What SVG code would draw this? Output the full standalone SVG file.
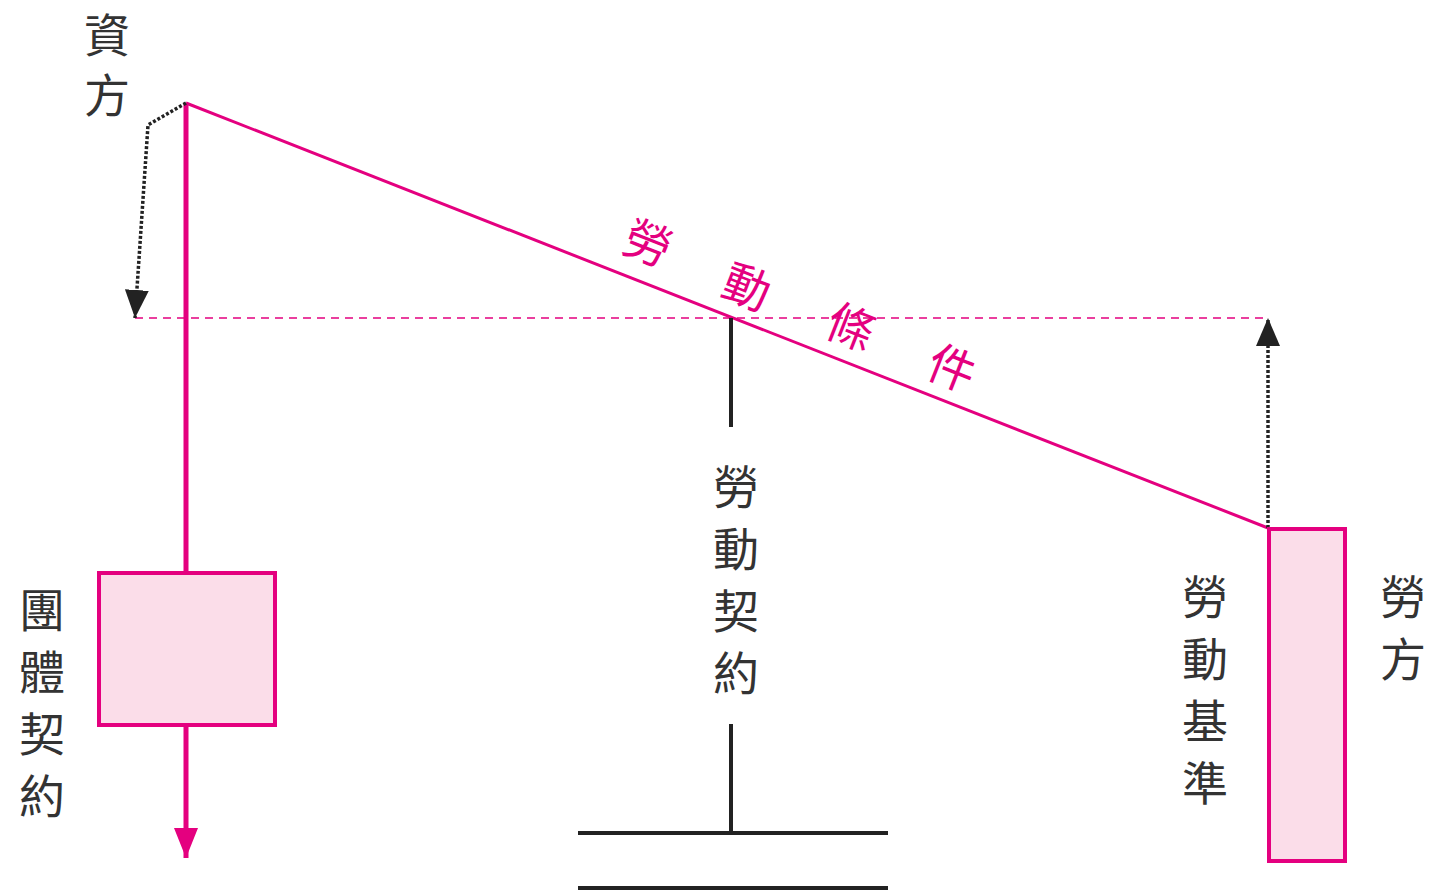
<svg xmlns="http://www.w3.org/2000/svg" width="1437" height="893" viewBox="0 0 1437 893">
<defs>
<style>
.t{font-family:"Noto Sans CJK TC","Noto Sans CJK JP",sans-serif;font-size:46px;fill:#333;text-anchor:middle;dominant-baseline:central}
.p{fill:#e4007f;font-size:47px}
.pink{stroke:#e4007f;fill:none}
.box{stroke:#e4007f;stroke-width:4;fill:#fbdde9}
.blk{stroke:#222;stroke-width:4;fill:none}
.dot{stroke:#222;stroke-width:3.5;stroke-dasharray:3 2;fill:none}
</style>
<marker id="ah" viewBox="0 0 28 24" refX="28" refY="12" markerWidth="28" markerHeight="24" markerUnits="userSpaceOnUse" orient="auto">
<path d="M0 0 L28 12 L0 24 Z" fill="#222"/>
</marker>
<marker id="ahp" viewBox="0 0 30 24" refX="30" refY="12" markerWidth="30" markerHeight="24" markerUnits="userSpaceOnUse" orient="auto">
<path d="M0 0 L30 12 L0 24 Z" fill="#e4007f"/>
</marker>
</defs>
<rect width="1437" height="893" fill="#fff"/>
<g id="connectors">
<line class="pink" x1="135" y1="318" x2="1268" y2="318" stroke-width="1.5" stroke-dasharray="8 6"/>
<line class="pink" x1="186" y1="103" x2="1268" y2="528" stroke-width="3"/>
<line class="pink" x1="186" y1="103" x2="186" y2="572" stroke-width="5"/>
<path class="pink" d="M186 726 V858" stroke-width="5" marker-end="url(#ahp)"/>
<path class="dot" d="M186 103 L148 125 L135 318" marker-end="url(#ah)"/>
<path class="dot" d="M1268 528 V318" marker-end="url(#ah)"/>
<line class="blk" x1="731" y1="318" x2="731" y2="427"/>
<line class="blk" x1="731" y1="724" x2="731" y2="833"/>
<line class="blk" x1="578" y1="833" x2="888" y2="833"/>
<line class="blk" x1="578" y1="888" x2="888" y2="888"/>
</g>
<g id="capital">
<text class="t" x="107" y="32">資</text>
<text class="t" x="107" y="92">方</text>
</g>
<g id="collective">
<rect class="box" x="99" y="573" width="176" height="152"/>
<text class="t" x="42" y="607">團</text>
<text class="t" x="42" y="669">體</text>
<text class="t" x="42" y="731">契</text>
<text class="t" x="42" y="793">約</text>
</g>
<g id="contract">
<text class="t" x="736" y="484">勞</text>
<text class="t" x="736" y="546">動</text>
<text class="t" x="736" y="608">契</text>
<text class="t" x="736" y="670">約</text>
</g>
<g id="labor">
<rect class="box" x="1269" y="529" width="76" height="332"/>
<text class="t" x="1205" y="594">勞</text>
<text class="t" x="1205" y="656">動</text>
<text class="t" x="1205" y="718">基</text>
<text class="t" x="1205" y="780">準</text>
<text class="t" x="1403" y="594">勞</text>
<text class="t" x="1403" y="656">方</text>
</g>
<g id="conditions">
<text class="t p" x="649" y="240" transform="rotate(21.44 649 240)">勞</text>
<text class="t p" x="748" y="284" transform="rotate(21.44 748 284)">動</text>
<text class="t p" x="852" y="324" transform="rotate(21.44 852 324)">條</text>
<text class="t p" x="953" y="365" transform="rotate(21.44 953 365)">件</text>
</g>
</svg>
